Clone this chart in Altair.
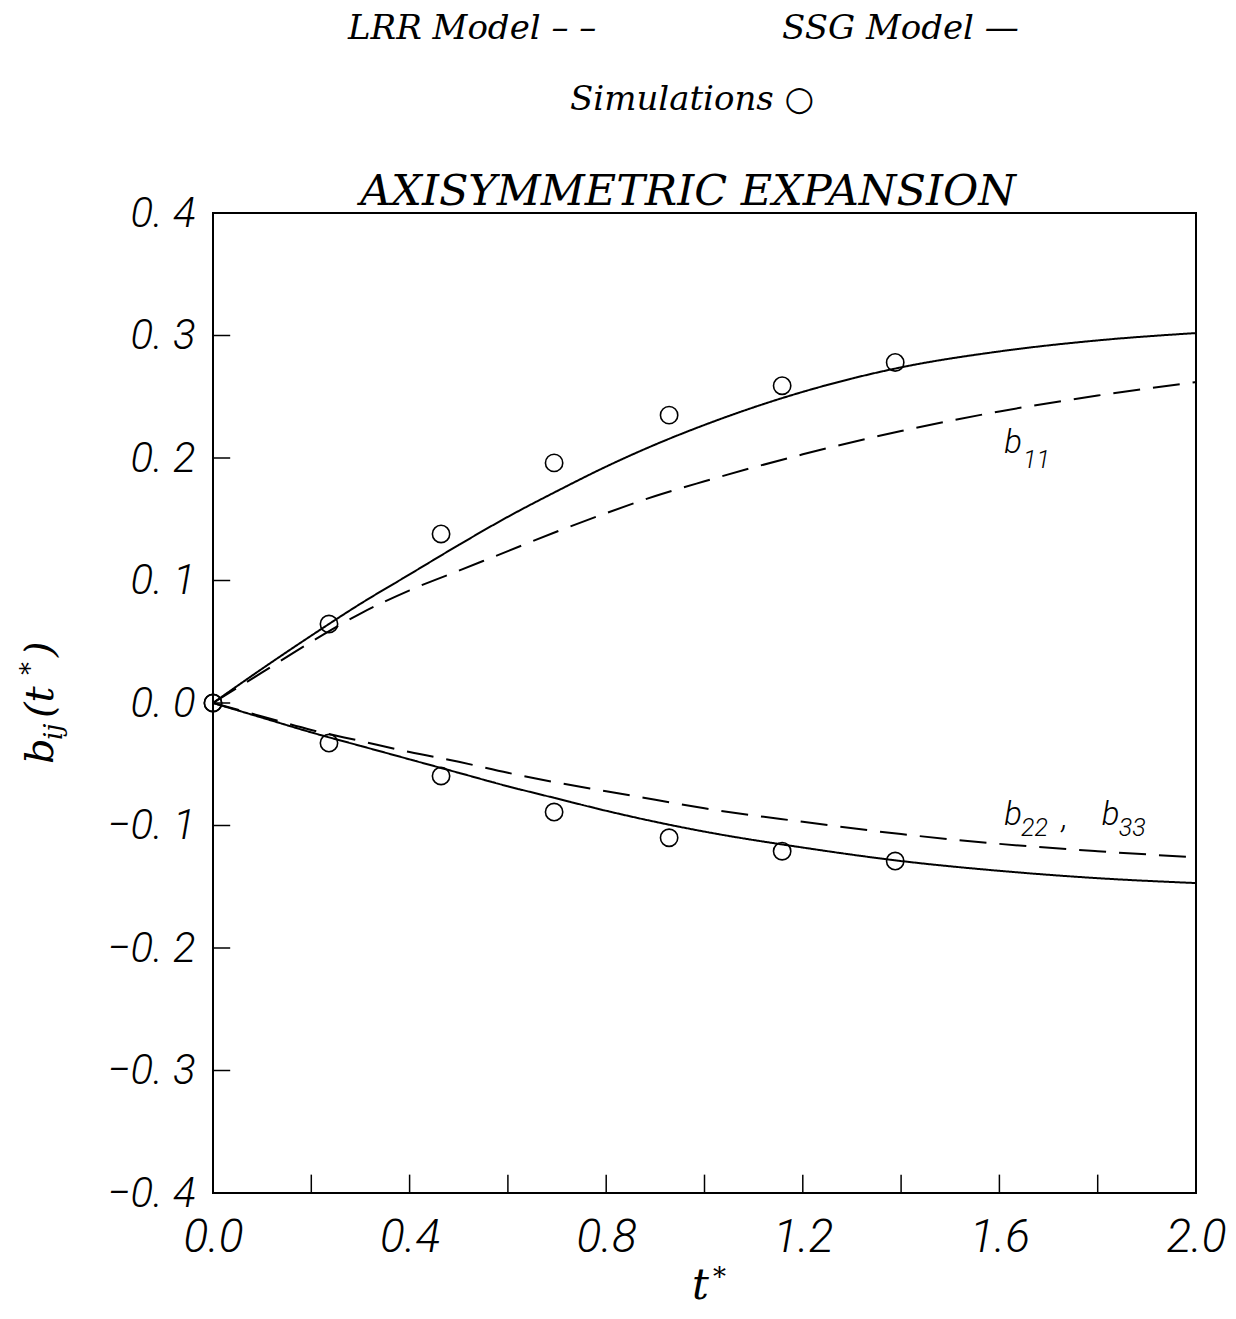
import altair as alt
import pandas as pd

# ---------------- data ----------------
t_model = [0.0, 0.1, 0.2, 0.3, 0.4, 0.5, 0.6, 0.7, 0.8, 0.9, 1.0, 1.2, 1.4, 1.6, 1.8, 2.0]
ssg_b11 = [0.0, 0.028, 0.055, 0.081, 0.105, 0.129, 0.152, 0.173, 0.193, 0.211, 0.227, 0.254, 0.274, 0.287, 0.296, 0.302]
lrr_b11 = [0.0, 0.025, 0.050, 0.073, 0.092, 0.108, 0.124, 0.140, 0.155, 0.169, 0.181, 0.203, 0.222, 0.238, 0.251, 0.262]
ssg_b22 = [0.0, -0.012, -0.024, -0.035, -0.046, -0.057, -0.068, -0.078, -0.088, -0.097, -0.105, -0.118, -0.129, -0.137, -0.143, -0.147]
lrr_b22 = [0.0, -0.011, -0.022, -0.031, -0.040, -0.048, -0.057, -0.065, -0.072, -0.079, -0.086, -0.097, -0.107, -0.115, -0.121, -0.126]

t_sim = [0.0, 0.236, 0.464, 0.694, 0.928, 1.158, 1.388]
sim_b11 = [0.0, 0.0645, 0.138, 0.196, 0.235, 0.259, 0.278]
sim_b22 = [0.0, -0.0327, -0.0596, -0.089, -0.110, -0.121, -0.129]

x_ticks = [0.2, 0.4, 0.6, 0.8, 1.0, 1.2, 1.4, 1.6, 1.8]
y_ticks = [-0.3, -0.2, -0.1, 0.0, 0.1, 0.2, 0.3]
x_labels = [0.0, 0.4, 0.8, 1.2, 1.6, 2.0]
y_labels = [-0.4, -0.3, -0.2, -0.1, 0.0, 0.1, 0.2, 0.3, 0.4]

# curve annotations (data coordinates)
ann_text = ["b", "11", "b", "22", ",", "b", "33"]
ann_t = [1.61, 1.648, 1.61, 1.644, 1.727, 1.808, 1.843]
ann_y = [0.204, 0.192, -0.0996, -0.1085, -0.102, -0.0996, -0.1085]
ann_kind = ["main", "sub", "main", "sub", "main", "main", "sub"]

# ---------------- tables ----------------
rows = []
for name, comp, vals in [("LRR", "b11", lrr_b11), ("SSG", "b11", ssg_b11),
                         ("LRR", "b22", lrr_b22), ("SSG", "b22", ssg_b22)]:
    for t, v in zip(t_model, vals):
        rows.append({"t": t, "b": v, "model": name, "comp": comp})
curves = pd.DataFrame(rows)

sim = pd.DataFrame({"t": t_sim + t_sim, "b": sim_b11 + sim_b22})
ann = pd.DataFrame({"t": ann_t, "b": ann_y, "text": ann_text, "kind": ann_kind})
xt = pd.DataFrame({"t": x_ticks})
yt = pd.DataFrame({"b": y_ticks})

xscale = alt.Scale(domain=[0, 2.0], nice=False, zero=False)
yscale = alt.Scale(domain=[-0.4, 0.4], nice=False, zero=False)

SERIF = "DejaVu Serif"
SANS = "Roboto"

xaxis = alt.Axis(values=x_labels, format=".1f", ticks=False, domain=False, grid=False,
                 title=None, labelFont=SANS, labelFontStyle="italic", labelFontWeight=300,
                 labelFontSize=46, labelColor="black", labelPadding=22, labelFlush=False)
yaxis = alt.Axis(values=y_labels, ticks=False, domain=False, grid=False, title=None,
                 labelExpr="replace(replace(format(datum.value, '.1f'), '.', '. '), '-', '\u2212')",
                 labelFont=SANS, labelFontStyle="italic", labelFontWeight=300, labelFontSize=42,
                 labelColor="black", labelPadding=18)

lines = alt.Chart(curves).mark_line(color="black", strokeWidth=2, clip=True, interpolate="monotone").encode(
    x=alt.X("t:Q", scale=xscale, axis=xaxis),
    y=alt.Y("b:Q", scale=yscale, axis=yaxis),
    strokeDash=alt.StrokeDash("model:N", scale=alt.Scale(domain=["LRR", "SSG"], range=[[27, 13], [1, 0]]), legend=None),
    detail="comp:N",
)

points = alt.Chart(sim).mark_point(shape="circle", filled=False, color="black", size=300,
                                   strokeWidth=1.6, opacity=1).encode(
    x=alt.X("t:Q", scale=xscale), y=alt.Y("b:Q", scale=yscale))

xtick_rules = alt.Chart(xt).mark_rule(color="black", strokeWidth=1.5).encode(
    x=alt.X("t:Q", scale=xscale), y=alt.datum(-0.4), y2=alt.datum(-0.385))
ytick_rules = alt.Chart(yt).mark_rule(color="black", strokeWidth=1.5).encode(
    y=alt.Y("b:Q", scale=yscale), x=alt.datum(0.0), x2=alt.datum(0.035))

ann_main = alt.Chart(ann[ann["kind"] == "main"]).mark_text(
    font=SANS, fontStyle="italic", fontWeight=300, fontSize=33, align="left", baseline="alphabetic", color="black").encode(
    x=alt.X("t:Q", scale=xscale), y=alt.Y("b:Q", scale=yscale), text="text:N")
ann_sub = alt.Chart(ann[ann["kind"] == "sub"]).mark_text(
    font=SANS, fontStyle="italic", fontWeight=300, fontSize=25, align="left", baseline="alphabetic", color="black").encode(
    x=alt.X("t:Q", scale=xscale), y=alt.Y("b:Q", scale=yscale), text="text:N")

# outer texts (pixel positions relative to plot area)
outer = pd.DataFrame({
    "text": ["LRR Model \u2013 \u2013", "SSG Model \u2014", "Simulations \u25cb", "AXISYMMETRIC  EXPANSION"],
    "px": [135, 569, 357, 475],
    "py": [-174, -174, -103, -8],
    "pos": ["left", "left", "left", "center"],
})
legend_txt = alt.Chart(outer[outer["pos"] == "left"]).mark_text(
    font=SERIF, fontStyle="italic", fontSize=34, align="left", baseline="alphabetic", color="black").encode(
    x=alt.X("px:Q", scale=None), y=alt.Y("py:Q", scale=None), text="text:N")
title_txt = alt.Chart(outer[outer["pos"] == "center"]).mark_text(
    font=SERIF, fontStyle="italic", fontSize=43, align="center", baseline="alphabetic", color="black").encode(
    x=alt.X("px:Q", scale=None), y=alt.Y("py:Q", scale=None), text="text:N")

# axis titles pieces
ytitle = pd.DataFrame({
    "text": ["b", "ij", "(t", "*", ")"],
    "px": [-160, -151, -160, -174, -160],
    "py": [551, 527, 505, 462, 444],
    "size": [40, 26, 40, 26, 40],
})
ytitle_main = alt.Chart(ytitle[ytitle["size"] == 40]).mark_text(
    font=SERIF, fontStyle="italic", fontSize=40, angle=270, align="left", baseline="alphabetic", color="black").encode(
    x=alt.X("px:Q", scale=None), y=alt.Y("py:Q", scale=None), text="text:N")
ytitle_small = alt.Chart(ytitle[ytitle["size"] == 26]).mark_text(
    font=SERIF, fontStyle="italic", fontSize=26, angle=270, align="left", baseline="alphabetic", color="black").encode(
    x=alt.X("px:Q", scale=None), y=alt.Y("py:Q", scale=None), text="text:N")

xtitle = pd.DataFrame({"text": ["t", "*"], "px": [479, 500], "py": [1086, 1073], "size": [42, 26]})
xtitle_main = alt.Chart(xtitle[xtitle["size"] == 42]).mark_text(
    font=SERIF, fontStyle="italic", fontSize=42, align="left", baseline="alphabetic", color="black").encode(
    x=alt.X("px:Q", scale=None), y=alt.Y("py:Q", scale=None), text="text:N")
xtitle_small = alt.Chart(xtitle[xtitle["size"] == 26]).mark_text(
    font=SERIF, fontStyle="italic", fontSize=26, align="left", baseline="alphabetic", color="black").encode(
    x=alt.X("px:Q", scale=None), y=alt.Y("py:Q", scale=None), text="text:N")

chart = alt.layer(
    lines, points, xtick_rules, ytick_rules, ann_main, ann_sub,
    legend_txt, title_txt, ytitle_main, ytitle_small, xtitle_main, xtitle_small,
).properties(
    width=983, height=980,
    autosize=alt.AutoSizeParams(type="none"),
    padding={"left": 205, "top": 205, "right": 32, "bottom": 118},
    background="white",
).configure_view(stroke="black", strokeWidth=2)

chart.save("out.html", embed_options={"renderer": "svg", "actions": False})
